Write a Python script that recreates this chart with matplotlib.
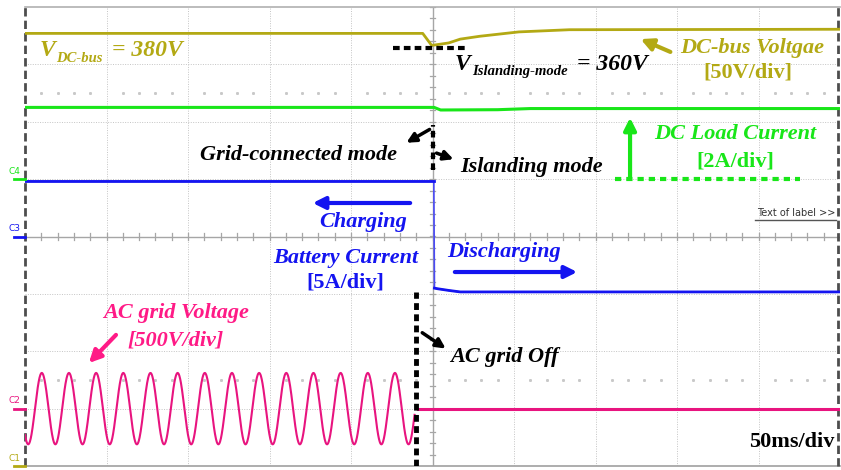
import numpy as np
import matplotlib
matplotlib.use("Agg")
import matplotlib.pyplot as plt

# ---- scope settings (per channel: units per division, ground level in divisions)
ms_per_div = 50
c1_scale, c1_ground = 50, -4.0     # DC-bus voltage [V]
c2_scale, c2_ground = 500, -3.0    # AC grid voltage [V]
c3_scale, c3_ground = 5, 0.0       # battery current [A]
c4_scale, c4_ground = 2, 1.0       # DC load current [A]

# ---- traces (time in ms, 0 = islanding event)
dc_bus_t = [-250, -6, -0.5, 10, 17, 29, 53, 84, 250]
dc_bus_v = [377, 377, 366.5, 368.7, 372, 374.5, 378.3, 380.2, 380.6]

load_t = [-250, 1, 5, 40, 60, 250]
load_i = [2.5, 2.5, 2.41, 2.42, 2.46, 2.46]

batt_t = [-250, 0.8, 1.2, 3, 10, 17, 250]
batt_i = [4.83, 4.83, -4.5, -4.55, -4.7, -4.83, -4.83]

ac_peak = 311        # V
ac_freq = 60         # Hz
ac_first_peak = -239.7   # ms
grid_off_t = -11.0       # ms
ac_after_t = [-9.0, 250]
ac_after_v = [0, 0]

olive = "#b3a914"
green = "#19e619"
blue = "#1414f0"
pink = "#e8147f"
pink_txt = "#ff1a86"

serif = dict(family="Liberation Serif", weight="bold", style="italic")
serif_up = dict(family="Liberation Serif", weight="bold")


def to_div(values, scale, ground):
    return np.asarray(values) / scale + ground


fig = plt.figure(figsize=(8.41, 4.70), dpi=100)
ax = fig.add_axes([25 / 841, 4 / 470, 815 / 841, 459 / 470])
ax.set_xlim(-250, 250)
ax.set_ylim(-4, 4)
ax.axis("off")

# graticule
for k in range(1, 10):
    t = -250 + k * ms_per_div
    if t != 0:
        ax.plot([t, t], [-4, 4], color="#c4c4c4", lw=0.7, ls=(0, (1, 1.5)), zorder=1)
for d in range(-3, 4):
    if d != 0:
        ax.plot([-250, 250], [d, d], color="#c4c4c4", lw=0.7, ls=(0, (1, 1.5)), zorder=1)
ax.plot([-250, 250], [0, 0], color="#a6a6a6", lw=1, zorder=1)
ax.plot([0, 0], [-4, 4], color="#a6a6a6", lw=1, zorder=1)
minor_t = np.arange(-250, 251, 10)
minor_d = np.arange(-4, 4.01, 0.2)
for t in minor_t:
    ax.plot([t, t], [-0.055, 0.055], color="#a6a6a6", lw=0.9, zorder=1)
for d in minor_d:
    ax.plot([-1.8, 1.8], [d, d], color="#a6a6a6", lw=0.9, zorder=1)
# dotted rows at +/- 2.5 div
for yrow in (2.5, -2.5):
    pts = [t for t in minor_t if t % 50 != 0]
    ax.plot(pts, [yrow] * len(pts), ls="none", marker="s", ms=1.1,
            color="#c8c8c8", zorder=1)

# frame
ax.plot([-250, 250], [4, 4], color="#b0b0b0", lw=1.2, zorder=1, clip_on=False)
ax.plot([-250, 250], [-4, -4], color="#a0a0a0", lw=1.2, zorder=1, clip_on=False)
for xe in (-250, 249):
    ax.plot([xe, xe], [-4, 4], color="#4d4d4d", lw=2, ls=(0, (3, 1.5)),
            zorder=1, clip_on=False)

# traces
ax.plot(dc_bus_t, to_div(dc_bus_v, c1_scale, c1_ground), color=olive, lw=2, zorder=3)
ax.plot(load_t, to_div(load_i, c4_scale, c4_ground), color=green, lw=2.2, zorder=3)
batt_div = to_div(batt_i, c3_scale, c3_ground)
ax.plot(batt_t, batt_div, color="#4a4af5", lw=1.2, zorder=3)
ax.plot(batt_t[:2], batt_div[:2], color=blue, lw=2, zorder=3)
ax.plot(batt_t[2:], batt_div[2:], color=blue, lw=2, zorder=3)

ac_t = np.linspace(-250, grid_off_t, 1500)
ac_v = ac_peak * np.cos(2 * np.pi * ac_freq * (ac_t - ac_first_peak) / 1000)
ax.plot(ac_t, to_div(ac_v, c2_scale, c2_ground), color=pink, lw=1.5, zorder=3)
ax.plot(ac_after_t, to_div(ac_after_v, c2_scale, c2_ground), color=pink, lw=2.2, zorder=3)

# channel ground markers
markers = [("C4", green, c4_ground), ("C3", blue, c3_ground),
           ("C2", pink, c2_ground), ("C1", olive, c1_ground)]
for name, col, g in markers:
    ax.plot([-257, -250], [g, g], color=col, lw=2, clip_on=False, zorder=4)
    ax.text(-260, g + 0.06, name, color=col, fontsize=6.5, family="DejaVu Sans",
            ha="left", va="bottom", clip_on=False)

# DC-bus annotations
ax.text(-240.8, 3.25, "V", color=olive, fontsize=17, va="center", ha="left", **serif)
ax.text(-231.0, 3.10, "DC-bus", color=olive, fontsize=10.5, va="center", ha="left", **serif)
ax.text(-196.6, 3.25, "= 380V", color=olive, fontsize=17, va="center", ha="left", **serif)
ax.plot([-24.2, 19.9], [3.285, 3.285], color="black", lw=3, ls=(0, (1.6, 1)), zorder=5)
ax.text(13.8, 3.0, "V", color="black", fontsize=17, va="center", ha="left", **serif)
ax.text(24.2, 2.87, "Islanding-mode", color="black", fontsize=10.5, va="center",
        ha="left", **serif)
ax.text(88.7, 3.0, "= 360V", color="black", fontsize=17, va="center", ha="left", **serif)
ax.text(196, 3.285, "DC-bus Voltgae", color=olive, fontsize=16, va="center",
        ha="center", **serif)
ax.text(193.6, 2.86, "[50V/div]", color=olive, fontsize=16, va="center",
        ha="center", **serif_up)
ax.annotate("", xy=(126.1, 3.46), xytext=(147.5, 3.198),
            arrowprops=dict(arrowstyle="-|>", color=olive, lw=3, mutation_scale=18))

# DC load current
ax.annotate("", xy=(121.2, 2.12), xytext=(121.2, 0.99),
            arrowprops=dict(arrowstyle="-|>", color=green, lw=3, mutation_scale=18))
ax.plot([112, 225.5], [1.0, 1.0], color=green, lw=3, ls=(0, (1.5, 1.2)), zorder=5)
ax.text(185.6, 1.786, "DC Load Current", color=green, fontsize=16, va="center",
        ha="center", **serif)
ax.text(185.6, 1.31, "[2A/div]", color=green, fontsize=16, va="center",
        ha="center", **serif_up)

# mode change marker
ax.plot([0.3, 0.3], [1.16, 1.94], color="black", lw=3, ls=(0, (1.6, 1)), zorder=5)
ax.annotate("", xy=(-17.5, 1.61), xytext=(-0.3, 1.89),
            arrowprops=dict(arrowstyle="-|>", color="black", lw=2.5, mutation_scale=14))
ax.annotate("", xy=(14.5, 1.33), xytext=(0.9, 1.47),
            arrowprops=dict(arrowstyle="-|>", color="black", lw=2.5, mutation_scale=14))
ax.text(-21.8, 1.42, "Grid-connected mode", color="black", fontsize=16,
        va="center", ha="right", **serif)
ax.text(16.9, 1.22, "Islanding mode", color="black", fontsize=16, va="center",
        ha="left", **serif)

# battery current
ax.annotate("", xy=(-75.2, 0.584), xytext=(-12.0, 0.584),
            arrowprops=dict(arrowstyle="-|>", color=blue, lw=3, mutation_scale=18))
ax.text(-42.6, 0.25, "Charging", color=blue, fontsize=16, va="center",
        ha="center", **serif)
ax.text(-53.1, -0.375, "Battery Current", color=blue, fontsize=16, va="center",
        ha="center", **serif)
ax.text(-53.7, -0.80, "[5A/div]", color=blue, fontsize=16, va="center",
        ha="center", **serif_up)
ax.text(8.9, -0.27, "Discharging", color=blue, fontsize=16, va="center",
        ha="left", **serif)
ax.annotate("", xy=(90.5, -0.619), xytext=(12.0, -0.619),
            arrowprops=dict(arrowstyle="-|>", color=blue, lw=3, mutation_scale=18))

ax.text(199.1, 0.41, "Text of label >>", color="#333333", fontsize=7,
        family="DejaVu Sans", va="center", ha="left")
ax.plot([197.9, 247.5], [0.29, 0.29], color="#555555", lw=1, zorder=5)

# AC grid
ax.text(-157.4, -1.333, "AC grid Voltage", color=pink_txt, fontsize=16,
        va="center", ha="center", **serif)
ax.text(-157.4, -1.82, "[500V/div]", color=pink_txt, fontsize=16, va="center",
        ha="center", **serif)
ax.annotate("", xy=(-212.0, -2.24), xytext=(-193.0, -1.68),
            arrowprops=dict(arrowstyle="-|>", color=pink_txt, lw=3, mutation_scale=18))
ax.plot([-10.1, -10.1], [-4, -0.97], color="black", lw=3.5, ls=(0, (1.4, 0.9)), zorder=5)
ax.annotate("", xy=(9.5, -1.98), xytext=(-7.7, -1.65),
            arrowprops=dict(arrowstyle="-|>", color="black", lw=2.5, mutation_scale=14))
ax.text(10.7, -2.1, "AC grid Off", color="black", fontsize=16, va="center",
        ha="left", **serif)

ax.text(246.3, -3.58, "50ms/div", color="black", fontsize=16, va="center",
        ha="right", **serif_up)

fig.savefig("out.png", dpi=100)
